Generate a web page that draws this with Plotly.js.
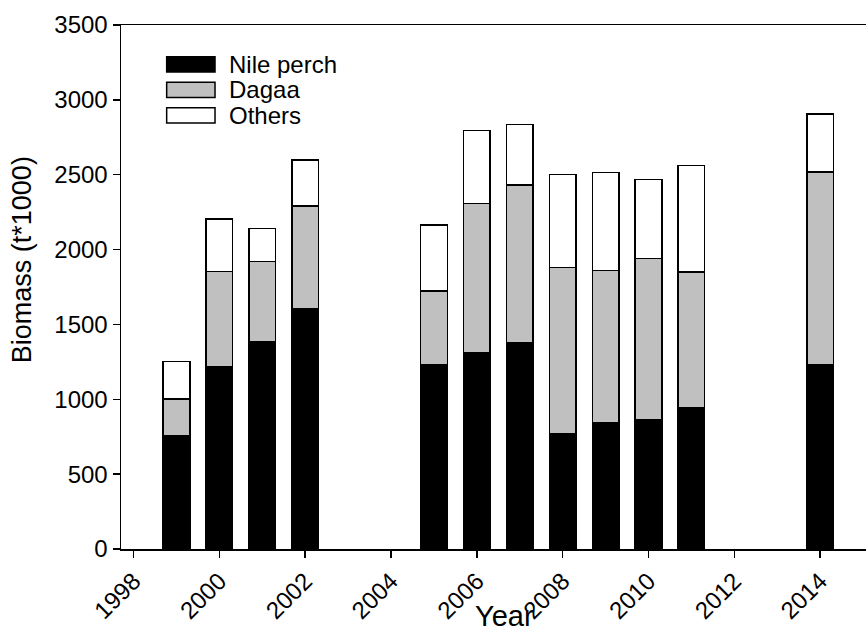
<!DOCTYPE html>
<html>
<head>
<meta charset="utf-8">
<script src="https://cdn.plot.ly/plotly-3.0.1.min.js"></script>
<style>html,body{margin:0;padding:0;background:#fff;}#chart{width:866px;height:633px;}</style>
</head>
<body>
<div id="chart"></div>
<script>
var years = [1999, 2000, 2001, 2002, 2005, 2006, 2007, 2008, 2009, 2010, 2011, 2014];
var seriesNames = ["Nile perch", "Dagaa", "Others"];
var nilePerch = [757, 1220, 1385, 1603, 1229, 1311, 1378, 768, 840, 864, 944, 1234];
var dagaa     = [245, 632, 534, 688, 494, 996, 1054, 1111, 1019, 1078, 906, 1284];
var others    = [249, 352, 221, 307, 441, 487, 402, 624, 655, 525, 710, 386];
var xTicks = [1998, 2000, 2002, 2004, 2006, 2008, 2010, 2012, 2014];
var yTicks = [0, 500, 1000, 1500, 2000, 2500, 3000, 3500];
var xTitle = "Year";
var yTitle = "Biomass (t*1000)";

var colors = ["#000000", "#c0c0c0", "#ffffff"];
var values = [nilePerch, dagaa, others];
var FONT = "Liberation Sans, Arial, sans-serif";

var traces = values.map(function (v, i) {
  return {
    type: "bar", x: years, y: v, name: seriesNames[i], width: 0.62,
    marker: {color: colors[i], line: {color: "#000", width: 1.5}},
    showlegend: false, hoverinfo: "x+y+name"
  };
});

var shapes = [], annotations = [];
var swTop = 0.9395, rowStep = 0.0487, swH = 0.029;
seriesNames.forEach(function (n, i) {
  var top = swTop - i * rowStep;
  shapes.push({type: "rect", xref: "paper", yref: "paper", x0: 0.0613, x1: 0.1262,
    y0: top - swH, y1: top, fillcolor: colors[i], line: {color: "#000", width: 1.5}});
  annotations.push({xref: "paper", yref: "paper", x: 0.1432, y: top - swH / 2,
    xanchor: "left", yanchor: "middle", text: n, showarrow: false, borderpad: 0,
    font: {family: FONT, size: 24, color: "#000"}});
});
annotations.push({xref: "paper", yref: "paper", x: -0.1329, y: 0.553, textangle: -90,
  xanchor: "center", yanchor: "middle", text: yTitle, showarrow: false,
  font: {family: FONT, size: 27, color: "#000"}});
annotations.push({xref: "paper", yref: "paper", x: 0.515, y: -0.1595,
  xanchor: "center", yanchor: "bottom", text: xTitle, showarrow: false, borderpad: 0,
  font: {family: FONT, size: 29, color: "#000"}});

var layout = {
  width: 866, height: 633,
  margin: {l: 121, r: 0, t: 25, b: 84},
  paper_bgcolor: "#fff", plot_bgcolor: "#fff",
  barmode: "stack",
  font: {family: FONT, color: "#000"},
  xaxis: {
    range: [1997.706, 2015.07], tickvals: xTicks, ticktext: xTicks.map(String),
    tickangle: -45, ticks: "outside", ticklen: 7, tickwidth: 1.5, tickcolor: "#000",
    showline: true, linecolor: "#000", linewidth: 1.5, mirror: true,
    showgrid: false, zeroline: false, automargin: false,
    tickfont: {family: FONT, size: 24, color: "#000"}
  },
  yaxis: {
    range: [0, 3500], tickvals: yTicks, ticks: "outside", ticklen: 7, tickwidth: 1.5, tickcolor: "#000",
    showline: true, linecolor: "#000", linewidth: 1.5,
    showgrid: false, zeroline: false, automargin: false,
    tickfont: {family: FONT, size: 24, color: "#000"}
  },
  shapes: shapes,
  annotations: annotations
};

Plotly.newPlot("chart", traces, layout, {displayModeBar: false, staticPlot: true});
</script>
</body>
</html>
